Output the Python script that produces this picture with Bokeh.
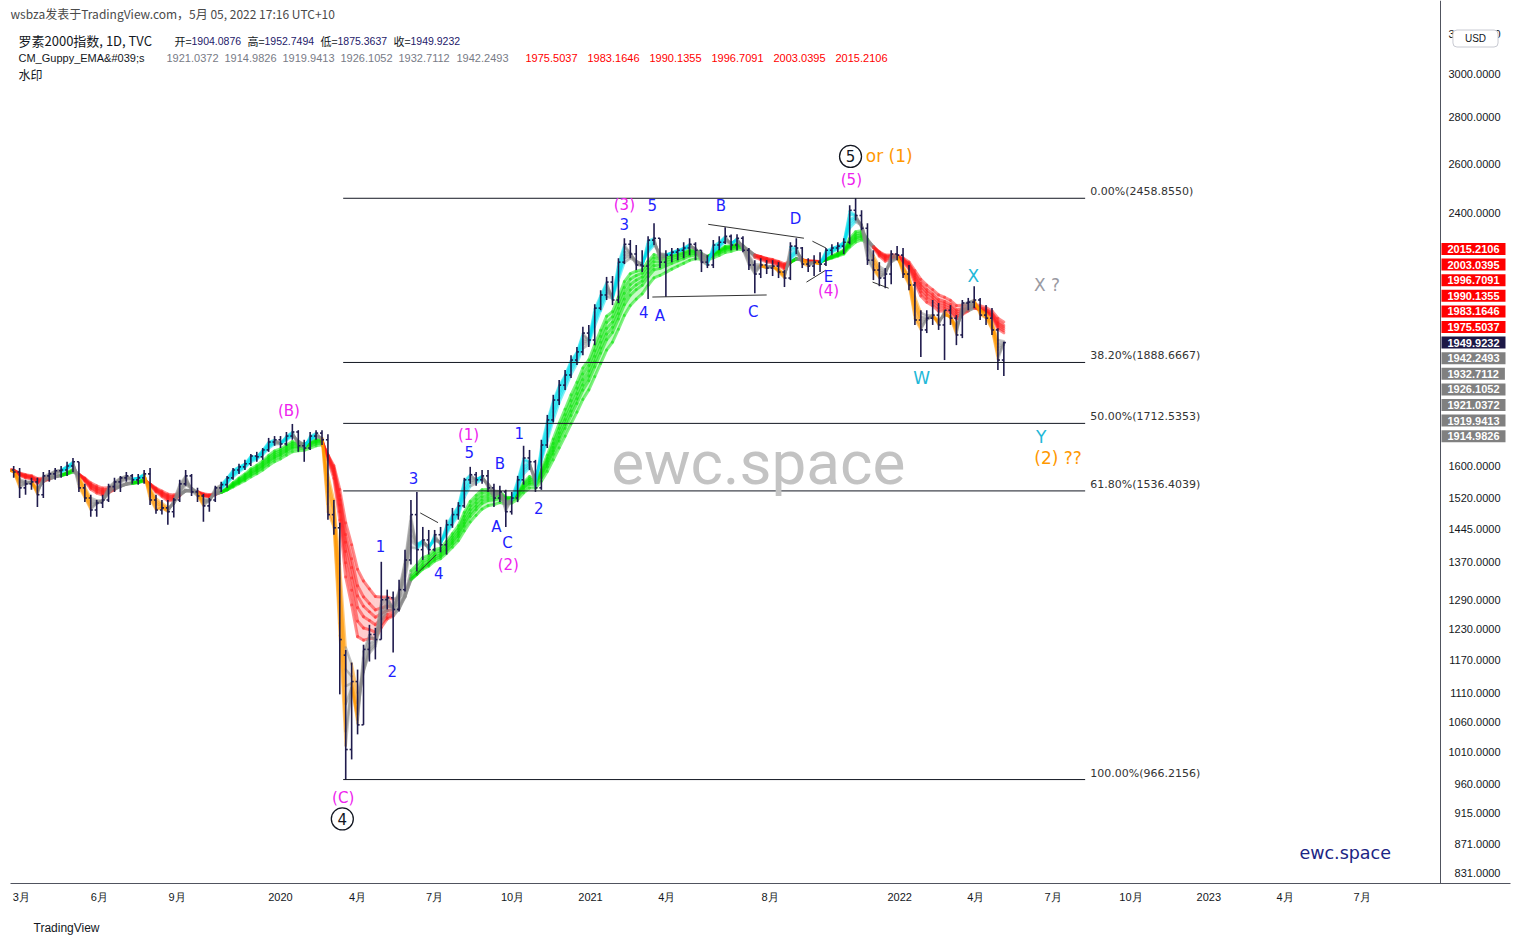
import numpy as np
import pandas as pd
from bokeh.plotting import figure
from bokeh.models import Range1d, FixedTicker, PrintfTickFormatter, CustomJSTickFormatter, Label, Title
from bokeh.embed import file_html
from bokeh.resources import INLINE

# ---------------- data (weekly OHLC) ----------------
FIRST_WEEK = "2019-02-13"
OPEN = [1580, 1589, 1584, 1544, 1554, 1559, 1527, 1574, 1579, 1587, 1589, 1599, 1610,
        1544, 1519, 1490, 1507, 1514, 1547, 1559, 1569, 1574, 1564, 1569, 1579, 1514,
        1490, 1495, 1486, 1514, 1554, 1574, 1534, 1524, 1500, 1514, 1544, 1552, 1569,
        1589, 1597, 1605, 1625, 1623, 1641, 1662, 1668, 1657, 1678, 1689, 1652, 1646,
        1678, 1686, 1668, 1479, 1448, 1180, 1014, 1131, 1055, 1191, 1220, 1210, 1290,
        1294, 1270, 1311, 1375, 1479, 1398, 1420, 1398, 1432, 1409, 1455, 1479, 1500,
        1564, 1577, 1564, 1574, 1544, 1519, 1534, 1486, 1519, 1564, 1620, 1610, 1544,
        1654, 1722, 1778, 1821, 1851, 1896, 1921, 1980, 1958, 2061, 2105, 2149, 2088,
        2219, 2284, 2248, 2209, 2205, 2299, 2306, 2219, 2244, 2255, 2262, 2270, 2284,
        2262, 2219, 2209, 2281, 2291, 2313, 2281, 2306, 2262, 2209, 2177, 2209, 2198,
        2205, 2184, 2163, 2277, 2270, 2212, 2205, 2219, 2212, 2262, 2270, 2277, 2291,
        2412, 2392, 2343, 2226, 2191, 2163, 2177, 2248, 2244, 2177, 2139, 2022, 1990,
        2028, 2038, 2006, 2054, 2028, 1974, 2078, 2081, 2088, 2038, 2028, 1990, 1896]
HIGH = [1597, 1599, 1594, 1564, 1569, 1569, 1584, 1589, 1594, 1599, 1610, 1620, 1610,
        1554, 1527, 1514, 1527, 1554, 1569, 1574, 1584, 1579, 1579, 1589, 1594, 1527,
        1514, 1514, 1519, 1564, 1589, 1579, 1544, 1529, 1519, 1549, 1559, 1574, 1594,
        1605, 1615, 1630, 1636, 1646, 1673, 1678, 1678, 1689, 1711, 1694, 1668, 1689,
        1694, 1694, 1683, 1514, 1460, 1190, 1166, 1153, 1200, 1239, 1233, 1371, 1311,
        1307, 1332, 1398, 1514, 1534, 1450, 1443, 1443, 1450, 1467, 1495, 1509, 1569,
        1597, 1584, 1589, 1589, 1554, 1549, 1539, 1534, 1574, 1652, 1641, 1615, 1668,
        1736, 1793, 1836, 1866, 1911, 1936, 2000, 2006, 2074, 2121, 2167, 2170, 2233,
        2306, 2299, 2281, 2262, 2313, 2362, 2306, 2262, 2270, 2270, 2291, 2306, 2291,
        2262, 2244, 2299, 2313, 2347, 2320, 2321, 2313, 2270, 2226, 2233, 2226, 2226,
        2219, 2191, 2291, 2306, 2274, 2233, 2244, 2255, 2270, 2284, 2291, 2306, 2431,
        2458.855, 2412, 2362, 2262, 2219, 2198, 2262, 2277, 2270, 2209, 2149, 2054, 2054,
        2088, 2078, 2054, 2071, 2038, 2088, 2095, 2135, 2095, 2071, 2061, 1995, 1952.7494]
LOW = [1569, 1569, 1519, 1527, 1539, 1497, 1519, 1559, 1564, 1569, 1574, 1584, 1534,
       1509, 1474, 1474, 1495, 1509, 1534, 1534, 1559, 1554, 1552, 1554, 1502, 1481,
       1479, 1455, 1472, 1509, 1549, 1524, 1509, 1462, 1486, 1509, 1534, 1544, 1564,
       1579, 1589, 1599, 1610, 1615, 1636, 1652, 1646, 1652, 1668, 1636, 1610, 1641,
       1668, 1654, 1467, 1432, 1108, 966, 998, 1039, 1055, 1168, 1172, 1210, 1270,
       1185, 1266, 1307, 1365, 1350, 1375, 1387, 1394, 1392, 1387, 1448, 1467, 1495,
       1554, 1549, 1554, 1534, 1497, 1509, 1450, 1479, 1509, 1552, 1589, 1534, 1539,
       1646, 1715, 1764, 1807, 1842, 1881, 1911, 1936, 1942, 2054, 2088, 2071, 2078,
       2212, 2233, 2191, 2184, 2091, 2281, 2198, 2098, 2219, 2226, 2233, 2244, 2226,
       2184, 2198, 2198, 2262, 2285, 2262, 2262, 2255, 2191, 2111, 2163, 2177, 2170,
       2163, 2132, 2156, 2248, 2198, 2184, 2170, 2184, 2205, 2244, 2255, 2248, 2284,
       2373, 2336, 2209, 2156, 2135, 2128, 2142, 2226, 2163, 2121, 2006, 1905, 1980,
       2006, 1990, 1896, 2006, 1942, 1964, 2054, 2061, 2022, 2006, 1974, 1866, 1848]
CLOSE = [1589, 1584, 1544, 1554, 1559, 1527, 1574, 1579, 1587, 1589, 1599, 1610, 1544,
         1519, 1490, 1507, 1514, 1547, 1559, 1569, 1574, 1564, 1569, 1579, 1514, 1490,
         1495, 1486, 1514, 1554, 1574, 1534, 1524, 1500, 1514, 1544, 1552, 1569, 1589,
         1597, 1605, 1625, 1623, 1641, 1662, 1668, 1657, 1678, 1689, 1652, 1646, 1678,
         1686, 1668, 1479, 1448, 1210, 1014, 1131, 1055, 1191, 1220, 1210, 1290, 1294,
         1270, 1311, 1375, 1479, 1398, 1420, 1398, 1432, 1409, 1455, 1479, 1500, 1564,
         1577, 1564, 1574, 1544, 1519, 1534, 1486, 1519, 1564, 1620, 1610, 1544, 1654,
         1722, 1778, 1821, 1851, 1896, 1921, 1980, 1958, 2061, 2105, 2149, 2088, 2219,
         2284, 2248, 2209, 2205, 2299, 2306, 2219, 2244, 2255, 2262, 2270, 2284, 2262,
         2219, 2209, 2281, 2291, 2313, 2281, 2306, 2262, 2209, 2177, 2209, 2198, 2205,
         2184, 2163, 2277, 2270, 2212, 2205, 2219, 2212, 2262, 2270, 2277, 2291, 2412,
         2392, 2343, 2226, 2191, 2163, 2177, 2248, 2244, 2177, 2139, 2022, 1990, 2028,
         2038, 2006, 2054, 2028, 1974, 2078, 2081, 2088, 2038, 2028, 1990, 1896, 1949.9232]

FAST_PERIODS = [3, 5, 8, 10, 12, 15]
SLOW_PERIODS = [30, 35, 40, 45, 50, 60]
LAST_FAST = ["1921.0372", "1914.9826", "1919.9413", "1926.1052", "1932.7112", "1942.2493"]
LAST_SLOW = ["1975.5037", "1983.1646", "1990.1355", "1996.7091", "2003.0395", "2015.2106"]
LAST_OHLC = ["1904.0876", "1952.7494", "1875.3637", "1949.9232"]

FIB_PCT = ["0.00%", "38.20%", "50.00%", "61.80%", "100.00%"]
FIB_LEVEL = [2458.8550, 1888.6667, 1712.5353, 1536.4039, 966.2156]
FIB_FROM, FIB_TO, FIB_TEXT_AT = "2020-03-15", "2022-08-08", "2022-08-14"

PRICE_TICKS = [3200, 3000, 2800, 2600, 2400, 1600, 1520, 1445, 1370, 1290, 1230,
               1170, 1110, 1060, 1010, 960, 915, 871, 831]
TIME_TICKS = ["2019-03-01", "2019-06-01", "2019-09-01", "2020-01-01", "2020-04-01",
              "2020-07-01", "2020-10-01", "2021-01-01", "2021-04-01", "2021-08-01",
              "2022-01-01", "2022-04-01", "2022-07-01", "2022-10-01", "2023-01-01",
              "2023-04-01", "2023-07-01"]

TRENDLINES = [  # (date0, price0, date1, price1)
    ("2020-06-14", 1483, "2020-07-05", 1460),
    ("2020-06-09", 1343, "2020-07-03", 1387),
    ("2021-03-15", 2098, "2021-07-28", 2105),
    ("2021-05-20", 2358, "2021-09-10", 2306),
    ("2021-09-20", 2295, "2021-10-06", 2270),
    ("2021-09-13", 2149, "2021-10-06", 2191),
    ("2021-11-30", 2149, "2021-12-19", 2128),
]

BLUE, MAG, CYAN, ORANGE, GRAYT = "#1f1fff", "#ee22ee", "#22b8d8", "#ff9800", "#9a9aa2"
WAVES = [  # text, date, price, color, size
    ("(B)", "2020-01-11", 1747, MAG, 15), ("(C)", "2020-03-15", 938, MAG, 15),
    ("1", "2020-04-28", 1407, BLUE, 15), ("2", "2020-05-12", 1151, BLUE, 15),
    ("3", "2020-06-06", 1569, BLUE, 15), ("4", "2020-07-06", 1347, BLUE, 15),
    ("(1)", "2020-08-10", 1681, MAG, 15), ("5", "2020-08-11", 1636, BLUE, 15),
    ("B", "2020-09-16", 1605, BLUE, 15), ("A", "2020-09-12", 1450, BLUE, 15),
    ("C", "2020-09-25", 1413, BLUE, 15), ("(2)", "2020-09-26", 1365, MAG, 15),
    ("1", "2020-10-09", 1686, BLUE, 15), ("2", "2020-11-01", 1495, BLUE, 15),
    ("(3)", "2021-02-10", 2431, MAG, 15), ("3", "2021-02-10", 2358, BLUE, 15),
    ("5", "2021-03-15", 2431, BLUE, 15), ("4", "2021-03-05", 2048, BLUE, 15),
    ("A", "2021-03-24", 2035, BLUE, 15), ("B", "2021-06-04", 2427, BLUE, 15),
    ("C", "2021-07-12", 2048, BLUE, 15), ("D", "2021-08-31", 2377, BLUE, 15),
    ("E", "2021-10-09", 2167, BLUE, 15), ("(4)", "2021-10-09", 2118, MAG, 15),
    ("(5)", "2021-11-05", 2534, MAG, 15),
    ("X", "2022-03-29", 2170, CYAN, 17), ("W", "2022-01-27", 1842, CYAN, 17),
    ("X ?", "2022-06-24", 2139, GRAYT, 17), ("Y", "2022-06-17", 1676, CYAN, 17),
    ("(2) ??", "2022-07-07", 1620, ORANGE, 17),
]
CIRCLED = [("4", "2020-03-14", 907), ("5", "2021-11-04", 2630)]


def ms(d):
    return pd.Timestamp(d).value / 1e6


# ---------------- derived series ----------------
dates = pd.date_range(FIRST_WEEK, periods=len(CLOSE), freq="W-WED")
t = dates.asi8 / 1e6
closes = np.array(CLOSE, dtype=float)


def ema(series, n):
    a_day = 2.0 / (n + 1)
    a_week = 1 - (1 - a_day) ** 5
    return pd.Series(series).ewm(alpha=a_week, adjust=False).mean().to_numpy()


fast = np.array([ema(closes, n) for n in FAST_PERIODS])
slow = np.array([ema(closes, n) for n in SLOW_PERIODS])
fastL = np.all(fast[:-1] > fast[1:], axis=0)
fastS = np.all(fast[:-1] < fast[1:], axis=0)
slowL = np.all(slow[:-1] > slow[1:], axis=0)
slowS = np.all(slow[:-1] < slow[1:], axis=0)
C_AQUA, C_ORANGE, C_GRAY, C_LIME, C_RED = "#00dfee", "#ff9800", "#8a8a8a", "#00e400", "#ff1c1c"
fast_col = np.where(fastL & slowL, C_AQUA, np.where(fastS & slowS, C_ORANGE, C_GRAY))
slow_col = np.where(slowL, C_LIME, np.where(slowS, C_RED, C_GRAY))

# ---------------- figure ----------------
# frame covers page x 10..1510 and y 0..884; ~0.847 px per calendar day, 623 px per ln-unit
FRAME_LEFT, FRAME_BOTTOM = 10, 884
DAY = 86400000
x0 = ms("2020-01-01") - 270 / 0.847 * DAY
x1 = x0 + 1500 / 0.847 * DAY
price_axis_at = x0 + 1430 / 0.847 * DAY

p = figure(width=1520, height=947, x_axis_type="datetime", y_axis_type="log",
           x_range=Range1d(x0, x1), y_range=Range1d(817.6, 3378.7),
           y_axis_location="left", output_backend="svg", toolbar_location=None,
           min_border_left=10, min_border_right=10, min_border_top=0, min_border_bottom=63)
p.xgrid.grid_line_color = None
p.ygrid.grid_line_color = None
p.outline_line_color = None
p.background_fill_color = "white"
p.border_fill_color = "white"

yax = p.yaxis[0]
yax.fixed_location = price_axis_at
yax.major_label_standoff = -60
yax.ticker = FixedTicker(ticks=PRICE_TICKS, minor_ticks=[])
yax.formatter = PrintfTickFormatter(format="%.4f")
p.xaxis.ticker = FixedTicker(ticks=[ms(d) for d in TIME_TICKS], minor_ticks=[])
p.xaxis.formatter = CustomJSTickFormatter(code="""
    const d = new Date(tick); const m = d.getUTCMonth();
    return m === 0 ? String(d.getUTCFullYear()) : (m + 1) + "月";
""")
for ax in (p.xaxis, p.yaxis):
    ax.major_tick_line_color = None
    ax.minor_tick_line_color = None
    ax.major_tick_out = 0
    ax.major_tick_in = 0
    ax.minor_tick_out = 0
    ax.minor_tick_in = 0
    ax.axis_line_color = "#50535e"
    ax.major_label_text_font = "Liberation Sans"
    ax.major_label_text_font_size = "11px"
    ax.major_label_text_color = "#131722"
p.xaxis.major_label_standoff = 7


# ribbon fills + lines
def ribbon(group, cols, lw):
    lo = group.min(axis=0)
    hi = group.max(axis=0)
    xs, ys, cs = [], [], []
    for i in range(1, len(t)):
        xs.append([t[i - 1], t[i], t[i], t[i - 1]])
        ys.append([lo[i - 1], lo[i], hi[i], hi[i - 1]])
        cs.append(cols[i])
    p.patches(xs=xs, ys=ys, fill_color=cs, fill_alpha=0.22, line_color=None)
    sx0, sy0, sx1, sy1, sc = [], [], [], [], []
    for e in group:
        for i in range(1, len(t)):
            sx0.append(t[i - 1]); sy0.append(e[i - 1]); sx1.append(t[i]); sy1.append(e[i]); sc.append(cols[i])
    p.segment(x0=sx0, y0=sy0, x1=sx1, y1=sy1, line_color=sc, line_alpha=0.5,
              line_width=lw, line_cap="round")


ribbon(slow, slow_col, 3)
ribbon(fast, fast_col, 2.5)

# OHLC bars
tick = 2.4 * DAY
BAR = "#1f1b4d"
p.segment(x0=t, x1=t, y0=LOW, y1=HIGH, line_color=BAR, line_width=1.6)
p.segment(x0=t - tick, x1=t, y0=OPEN, y1=OPEN, line_color=BAR, line_width=1.6)
p.segment(x0=t, x1=t + tick, y0=CLOSE, y1=CLOSE, line_color=BAR, line_width=1.6)

# fib retracement
p.segment(x0=[ms(FIB_FROM)] * len(FIB_LEVEL), x1=[ms(FIB_TO)] * len(FIB_LEVEL),
          y0=FIB_LEVEL, y1=FIB_LEVEL, line_color="#131722", line_width=1)
for pct, lvl in zip(FIB_PCT, FIB_LEVEL):
    p.add_layout(Label(x=ms(FIB_TEXT_AT), y=lvl, text=f"{pct}({lvl:.4f})", text_color="#333333",
                       text_font="DejaVu Sans", text_font_size="11px", text_align="left",
                       text_baseline="bottom"))

# trend lines
p.segment(x0=[ms(a) for a, _, _, _ in TRENDLINES], y0=[b for _, b, _, _ in TRENDLINES],
          x1=[ms(c) for _, _, c, _ in TRENDLINES], y1=[d for _, _, _, d in TRENDLINES],
          line_color="#333333", line_width=1)

# watermark
p.add_layout(Label(x=ms("2021-07-18"), y=1607, text="ewc.space", text_color="#c3c3c3",
                   text_font="Roboto", text_font_size="62px", text_align="center",
                   text_baseline="middle"))

# wave labels
for txt, d, pr, col, sz in WAVES:
    p.add_layout(Label(x=ms(d), y=pr, text=txt, text_color=col, text_font="DejaVu Sans",
                       text_font_size=f"{sz}px", text_align="center", text_baseline="middle"))
p.scatter(x=[ms(d) for _, d, _ in CIRCLED], y=[pr for _, _, pr in CIRCLED], size=22,
          marker="circle", fill_color="white", line_color="#131722", line_width=1.3)
for txt, d, pr in CIRCLED:
    p.add_layout(Label(x=ms(d), y=pr, text=txt, text_color="#131722", text_font="DejaVu Sans",
                       text_font_size="15px", text_align="center", text_baseline="middle"))
p.add_layout(Label(x=ms("2021-11-22"), y=2630, text="or (1)", text_color=ORANGE,
                   text_font="DejaVu Sans", text_font_size="17px", text_align="left",
                   text_baseline="middle"))
p.add_layout(Label(x=ms("2023-06-11"), y=858, text="ewc.space", text_color="#1c2584",
                   text_font="DejaVu Sans", text_font_size="17.5px", text_align="center",
                   text_baseline="middle"))


# ---------------- screen-positioned texts (inside the frame) ----------------
def scr(px, py, text, color, size, font="Liberation Sans", align="left", style="normal", **kw):
    p.add_layout(Label(x=px - FRAME_LEFT, y=FRAME_BOTTOM - py, x_units="screen", y_units="screen",
                       text=text, text_color=color, text_font=font, text_font_size=f"{size}px",
                       text_align=align, text_baseline="middle", text_font_style=style, **kw))


CJK = "Noto Sans CJK SC"
scr(10, 14, "wsbza发表于TradingView.com，5月 05, 2022 17:16 UTC+10", "#4a4a4a", 12, font=CJK)
VAL = "#24206a"
scr(18, 41, "罗素2000指数, 1D, TVC", "#131722", 13, font=CJK)
for xl, lab_, xv, v in [(174, "开=", 191, LAST_OHLC[0]), (247, "高=", 264, LAST_OHLC[1]),
                        (320, "低=", 337, LAST_OHLC[2]), (393, "收=", 410, LAST_OHLC[3])]:
    scr(xl, 41, lab_, "#131722", 11, font=CJK)
    scr(xv, 41, v, VAL, 10.5)
scr(18, 58, "CM_Guppy_EMA&#039;s", "#131722", 11)
for i, v in enumerate(LAST_FAST):
    scr(166 + i * 58, 58, v, "#787b86", 11)
for i, v in enumerate(LAST_SLOW):
    scr(525 + i * 62, 58, v, "#ff0000", 11)
scr(18, 75, "水印", "#131722", 12, font=CJK)

# right-axis value boxes
boxes = sorted([(float(v), v, "#ff0000") for v in LAST_SLOW] +
               [(float(LAST_OHLC[3]), LAST_OHLC[3], "#1c1846")] +
               [(float(v), v, "#808080") for v in LAST_FAST], reverse=True)
for i, (_, v, bg) in enumerate(boxes):
    scr(1441, 249.5 + 15.6 * i, v, "white", 11, style="bold",
        background_fill_color=bg, padding=(6, 2))

scr(1475, 39, "USD", "#131722", 10, align="center",
    background_fill_color="white", border_line_color="#c8cad2", border_radius=4, padding=(12, 3))

p.add_layout(Title(text="TradingView", align="left", offset=23, text_font="Liberation Sans",
                   text_font_size="12px", text_font_style="normal", text_color="#131722",
                   standoff=26), "below")

open("out.html", "w").write(file_html(p, INLINE))
